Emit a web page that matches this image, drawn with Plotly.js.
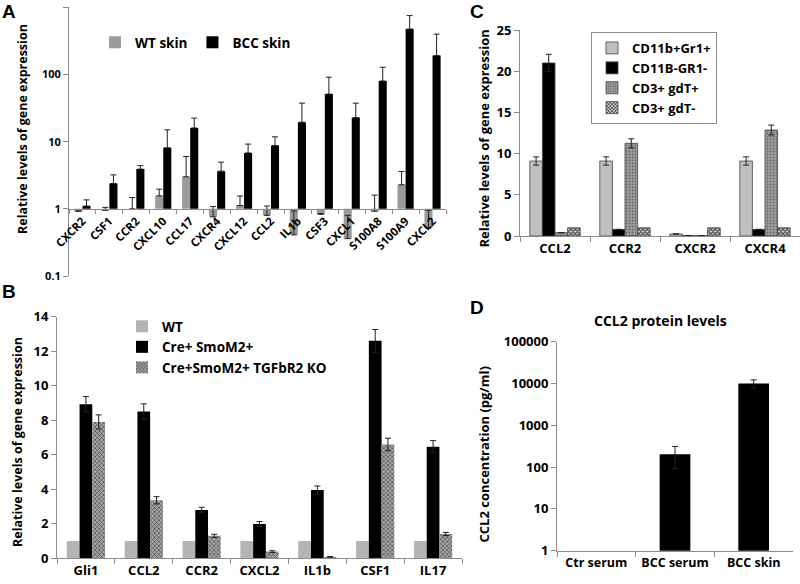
<!DOCTYPE html>
<html>
<head>
<meta charset="utf-8">
<script src="https://cdn.plot.ly/plotly-3.0.1.min.js"></script>
<style>html,body{margin:0;padding:0;background:#fff}#chart{width:800px;height:584px}</style>
</head>
<body>
<div id="chart"></div>
<script>
// ---------- Panel A ----------
const catsA = ['CXCR2','CSF1','CCR2','CXCL10','CCL17','CXCR4','CXCL12','CCL2','IL1b','CSF3','CXCL1','S100A8','S100A9','CXCL2'];
const wtSkin      = [0.92, 0.95, 1.0, 1.56, 3.0, 0.76, 1.12, 0.8, 0.41, 0.83, 0.36, 0.92, 2.28, 0.52];
const wtSkinTop   = [0.93, 1.05, 1.47, 1.96, 6.0, 1.08, 1.55, 1.1, 0.93, 0.85, 0.8, 1.6, 3.6, 0.95];
const bccSkin     = [1.1, 2.38, 3.9, 8.1, 16, 3.64, 6.8, 8.75, 19.5, 51, 22.8, 80, 475, 191];
const bccSkinTop  = [1.36, 3.2, 4.4, 15, 22.4, 4.95, 9.2, 11.8, 37.4, 91, 37.4, 128, 753, 398];
const ticksA = [0.1, 1, 10, 100, 1000];
const tickTextA = ['0.1', '1', '10', '100', '1000'];

// ---------- Panel B ----------
const catsB = ['Gli1','CCL2','CCR2','CXCL2','IL1b','CSF1','IL17'];
const wtB     = [1, 1, 1, 1, 1, 1, 1];
const creB    = [8.93, 8.5, 2.8, 1.99, 3.96, 12.6, 6.47];
const creBErr = [0.44, 0.45, 0.16, 0.14, 0.23, 0.66, 0.35];
const koB     = [7.9, 3.36, 1.3, 0.39, 0.08, 6.6, 1.41];
const koBErr  = [0.41, 0.21, 0.09, 0.05, 0.02, 0.36, 0.09];

// ---------- Panel C ----------
const catsC = ['CCL2','CCR2','CXCR2','CXCR4'];
const cd11bGr1Pos    = [9.1, 9.1, 0.25, 9.1];
const cd11bGr1PosErr = [0.5, 0.5, null, 0.5];
const cd11bGr1Neg    = [21.0, 0.8, 0.05, 0.8];
const cd11bGr1NegErr = [1.05, null, null, null];
const cd3GdTPos      = [0.4, 11.25, 0.05, 12.86];
const cd3GdTPosErr   = [null, 0.55, null, 0.6];
const cd3GdTNeg      = [1, 1, 1, 1];

// ---------- Panel D ----------
const catsD = ['Ctr serum','BCC serum','BCC skin'];
const ccl2Protein    = [null, 202, 10000];
const ccl2ProteinErr = [null, 110, 2200];
const ticksD = [1, 10, 100, 1000, 10000, 100000];

const FONT = '"Open Sans", Lato, sans-serif';
const W = 800, H = 584;
const px = v => v / W, py = v => 1 - v / H;

const traces = [];
// A: bars hang from 1 (base = 1)
traces.push({
  type: 'bar', name: 'WT skin', x: catsA,
  y: wtSkin.map(v => v - 1), base: 1,
  width: 0.3, offset: -0.3,
  marker: {color: '#9a9a9a'},
  error_y: {type: 'data', symmetric: false, array: wtSkin.map((v, i) => wtSkinTop[i] - v),
            arrayminus: wtSkin.map(() => 0), color: '#222', thickness: 1, width: 3},
  xaxis: 'x', yaxis: 'y', legend: 'legend', hoverinfo: 'skip'
});
traces.push({
  type: 'bar', name: 'BCC skin', x: catsA,
  y: bccSkin.map(v => v - 1), base: 1,
  width: 0.3, offset: 0,
  marker: {color: '#000'},
  error_y: {type: 'data', symmetric: false, array: bccSkin.map((v, i) => bccSkinTop[i] - v),
            arrayminus: bccSkin.map(() => 0), color: '#222', thickness: 1, width: 3},
  xaxis: 'x', yaxis: 'y', legend: 'legend', hoverinfo: 'skip'
});
// B
traces.push({type: 'bar', name: 'WT', x: catsB, y: wtB, width: 0.22, offset: -0.33,
  marker: {color: '#b4b4b4'}, xaxis: 'x2', yaxis: 'y2', legend: 'legend2', hoverinfo: 'skip'});
traces.push({type: 'bar', name: 'Cre+ SmoM2+', x: catsB, y: creB, width: 0.22, offset: -0.11,
  marker: {color: '#000'},
  error_y: {type: 'data', array: creBErr, color: '#222', thickness: 1, width: 3},
  xaxis: 'x2', yaxis: 'y2', legend: 'legend2', hoverinfo: 'skip'});
traces.push({type: 'bar', name: 'Cre+SmoM2+ TGFbR2 KO', x: catsB, y: koB, width: 0.22, offset: 0.11,
  marker: {color: '#9a9a9a', pattern: {shape: 'x', size: 3, solidity: 0.4, fgcolor: '#444', bgcolor: '#a8a8a8'}},
  error_y: {type: 'data', array: koBErr, color: '#222', thickness: 1, width: 3},
  xaxis: 'x2', yaxis: 'y2', legend: 'legend2', hoverinfo: 'skip'});
// C
const cLine = {color: '#444', width: 0.8};
traces.push({type: 'bar', name: 'CD11b+Gr1+', x: catsC, y: cd11bGr1Pos, width: 0.18, offset: -0.36,
  marker: {color: '#c0c0c0', line: cLine},
  error_y: {type: 'data', array: cd11bGr1PosErr, color: '#222', thickness: 1, width: 3},
  xaxis: 'x3', yaxis: 'y3', legend: 'legend3', hoverinfo: 'skip'});
traces.push({type: 'bar', name: 'CD11B-GR1-', x: catsC, y: cd11bGr1Neg, width: 0.18, offset: -0.18,
  marker: {color: '#000', line: cLine},
  error_y: {type: 'data', array: cd11bGr1NegErr, color: '#222', thickness: 1, width: 3},
  xaxis: 'x3', yaxis: 'y3', legend: 'legend3', hoverinfo: 'skip'});
traces.push({type: 'bar', name: 'CD3+ gdT+', x: catsC, y: cd3GdTPos, width: 0.18, offset: 0,
  marker: {color: '#999', line: cLine, pattern: {shape: '.', size: 3, solidity: 0.3, fgcolor: '#666', bgcolor: '#a0a0a0'}},
  error_y: {type: 'data', array: cd3GdTPosErr, color: '#222', thickness: 1, width: 3},
  xaxis: 'x3', yaxis: 'y3', legend: 'legend3', hoverinfo: 'skip'});
traces.push({type: 'bar', name: 'CD3+ gdT-', x: catsC, y: cd3GdTNeg, width: 0.18, offset: 0.18,
  marker: {color: '#888', line: cLine, pattern: {shape: 'x', size: 3, solidity: 0.5, fgcolor: '#333', bgcolor: '#d0d0d0'}},
  xaxis: 'x3', yaxis: 'y3', legend: 'legend3', hoverinfo: 'skip'});
// D
traces.push({type: 'bar', name: 'CCL2', x: catsD, y: ccl2Protein, width: 0.39, offset: -0.195,
  marker: {color: '#000'},
  error_y: {type: 'data', array: ccl2ProteinErr, color: '#222', thickness: 1, width: 3},
  xaxis: 'x4', yaxis: 'y4', showlegend: false, hoverinfo: 'skip'});

const tickF = (s) => ({family: FONT, size: s, color: '#000', weight: 'bold'});
const axisCommon = {showline: true, linecolor: '#8c8c8c', linewidth: 1, showgrid: false, zeroline: false,
  ticks: 'outside', ticklen: 4, tickcolor: '#8c8c8c', fixedrange: true};

const ann = (text, x, y, size, angle, fam) => ({text: text, x: px(x), y: py(y), xref: 'paper', yref: 'paper',
  xanchor: 'center', yanchor: 'middle', textangle: angle || 0, showarrow: false,
  font: {family: fam || FONT, size: size, weight: 'bold', color: '#000'}});
const LETTER = 'Arial, "Liberation Sans", sans-serif';

const layout = {
  width: W, height: H, margin: {l: 0, r: 0, t: 0, b: 0},
  paper_bgcolor: '#fff', plot_bgcolor: 'rgba(0,0,0,0)',
  barmode: 'overlay', hovermode: false,
  font: {family: FONT, color: '#000'},
  xaxis: Object.assign({}, axisCommon, {domain: [px(69), px(446)], anchor: 'free', position: py(209),
    type: 'category', range: [-0.5, 13.5], tickson: 'boundaries', tickangle: -45, tickfont: tickF(11.5)}),
  yaxis: Object.assign({}, axisCommon, {domain: [py(276), py(7.3)], anchor: 'x', type: 'log', range: [-1, 3],
    tickvals: ticksA, ticktext: tickTextA, tickfont: tickF(11), ticklen: 5}),
  xaxis2: Object.assign({}, axisCommon, {domain: [px(57), px(462)], anchor: 'y2', type: 'category',
    range: [-0.5, 6.5], tickson: 'boundaries', tickangle: 0, tickfont: tickF(13), ticklen: 5}),
  yaxis2: Object.assign({}, axisCommon, {domain: [py(558.3), py(316.7)], anchor: 'x2', range: [0, 14], dtick: 2,
    tickfont: tickF(13), ticklen: 5}),
  xaxis3: Object.assign({}, axisCommon, {domain: [px(520), 1], anchor: 'y3', type: 'category',
    range: [-0.5, 3.5], tickson: 'boundaries', tickangle: 0, tickfont: tickF(13), ticklen: 5}),
  yaxis3: Object.assign({}, axisCommon, {domain: [py(236), py(30)], anchor: 'x3', range: [0, 25], dtick: 5,
    tickfont: tickF(13), ticklen: 5}),
  xaxis4: Object.assign({}, axisCommon, {domain: [px(557), px(793)], anchor: 'y4', type: 'category',
    range: [-0.5, 2.5], tickson: 'boundaries', tickangle: 0, tickfont: tickF(12.5), ticklen: 5}),
  yaxis4: Object.assign({}, axisCommon, {domain: [py(550.7), py(341.7)], anchor: 'x4', type: 'log', range: [0, 5],
    tickvals: ticksD, ticktext: ticksD.map(String), tickfont: tickF(13), ticklen: 5}),
  legend: {orientation: 'h', x: px(95), y: py(27), xanchor: 'left', yanchor: 'top',
    font: {family: FONT, size: 13.5, weight: 'bold', color: '#000'}, bgcolor: 'rgba(0,0,0,0)', traceorder: 'normal'},
  legend2: {x: px(122), y: py(311), xanchor: 'left', yanchor: 'top', tracegroupgap: 0,
    font: {family: FONT, size: 13.5, weight: 'bold', color: '#000'}, bgcolor: 'rgba(0,0,0,0)', traceorder: 'normal'},
  legend3: {x: px(591), y: py(32), xanchor: 'left', yanchor: 'top', tracegroupgap: 0,
    bordercolor: '#8c8c8c', borderwidth: 1,
    font: {family: FONT, size: 13, weight: 'bold', color: '#000'}, bgcolor: '#fff', traceorder: 'normal'},
  annotations: [
    ann('A', 9, 11, 19, 0, LETTER),
    ann('B', 9, 291, 19, 0, LETTER),
    ann('C', 477, 11, 19, 0, LETTER),
    ann('D', 477, 307, 19, 0, LETTER),
    ann('Relative levels of gene expression', 23, 129, 12.5, -90),
    ann('Relative levels of gene expression', 17, 442, 12.5, -90),
    ann('Relative levels of gene expression', 483.5, 139, 13, -90),
    ann('CCL2 concentration (pg/ml)', 483.5, 455, 13, -90),
    ann('CCL2 protein levels', 660, 320, 14, 0)
  ]
};

Plotly.newPlot('chart', traces, layout, {staticPlot: true, displayModeBar: false});
</script>
</body>
</html>
